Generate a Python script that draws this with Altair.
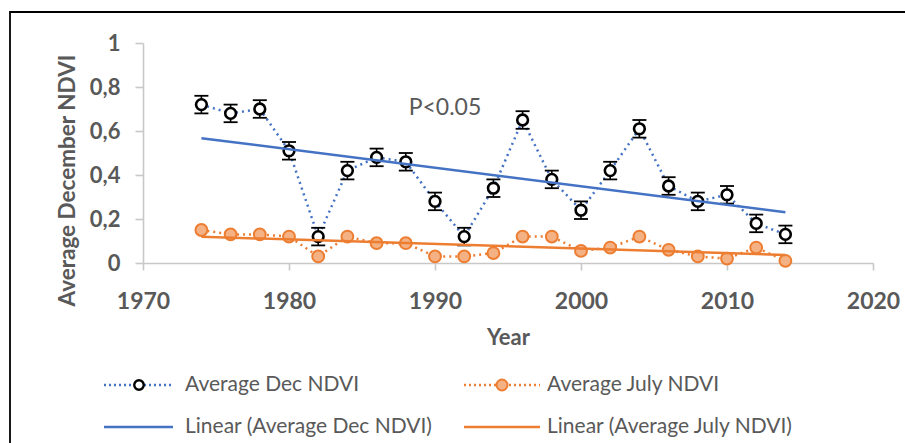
import altair as alt
import pandas as pd

# Survey years and NDVI averages
years = [1974, 1976, 1978, 1980, 1982, 1984, 1986, 1988, 1990, 1992, 1994,
         1996, 1998, 2000, 2002, 2004, 2006, 2008, 2010, 2012, 2014]
dec_ndvi = [0.72, 0.68, 0.70, 0.51, 0.12, 0.42, 0.48, 0.46, 0.28, 0.12, 0.34,
            0.65, 0.38, 0.24, 0.42, 0.61, 0.35, 0.28, 0.31, 0.18, 0.13]
july_ndvi = [0.15, 0.13, 0.13, 0.12, 0.03, 0.12, 0.09, 0.09, 0.03, 0.03, 0.045,
             0.12, 0.12, 0.055, 0.07, 0.12, 0.06, 0.03, 0.02, 0.07, 0.01]
dec_err = [0.04] * len(years)

legend_labels = ["Average Dec NDVI", "Average July NDVI",
                 "Linear (Average Dec NDVI)", "Linear (Average July NDVI)"]
x_ticks = [1970, 1980, 1990, 2000, 2010, 2020]
y_ticks = [0, 0.2, 0.4, 0.6, 0.8, 1]

BLUE = "#4472C4"
ORANGE = "#ED7D31"
ORANGE_FILL = "#F4B183"
GRAY = "#595959"
FONT = "Lato"

df = pd.DataFrame({"Year": years, "Dec": dec_ndvi, "July": july_ndvi, "err": dec_err})
df["lo"] = df["Dec"] - df["err"]
df["hi"] = df["Dec"] + df["err"]

x_enc = alt.X("Year:Q", scale=alt.Scale(domain=[1970, 2020], nice=False, zero=False),
              axis=alt.Axis(values=x_ticks, format="d", title="Year", tickSize=7,
                            labelPadding=20, titlePadding=14, labelFlush=False,
                            labelFontSize=23))
y_scale = alt.Scale(domain=[0, 1], nice=False)
y_axis = alt.Axis(values=y_ticks, title="Average December NDVI", tickSize=8,
                  labelPadding=15, labelFlush=False,
                  labelExpr="replace(format(datum.value, '~r'), '.', ',')",
                  titleX=-76, titleY=137, titleAngle=-90, titleBaseline="middle",
                  titleFontSize=22.5)

base = alt.Chart(df)

dec_line = base.mark_line(color=BLUE, strokeWidth=2.5, strokeDash=[2, 4]).encode(
    x=x_enc, y=alt.Y("Dec:Q", scale=y_scale, axis=y_axis))
july_line = base.mark_line(color=ORANGE, strokeWidth=2.5, strokeDash=[2, 4]).encode(
    x="Year:Q", y="July:Q")

err_rule = base.mark_rule(color="black", strokeWidth=1.6).encode(
    x="Year:Q", y="lo:Q", y2="hi:Q")
err_top = base.mark_rule(color="black", strokeWidth=1.8, xOffset=-7, x2Offset=7).encode(
    x="Year:Q", x2="Year:Q", y="hi:Q")
err_bot = base.mark_rule(color="black", strokeWidth=1.8, xOffset=-7, x2Offset=7).encode(
    x="Year:Q", x2="Year:Q", y="lo:Q")

dec_pts = base.mark_point(shape="circle", filled=True, fill="white", stroke="black",
                          strokeWidth=2.6, size=115, opacity=1).encode(
    x="Year:Q", y="Dec:Q")
july_pts = base.mark_point(shape="circle", filled=True, fill=ORANGE_FILL, stroke=ORANGE,
                           strokeWidth=2, size=140, opacity=1).encode(
    x="Year:Q", y="July:Q")

dec_trend = base.transform_regression("Year", "Dec").mark_line(
    color=BLUE, strokeWidth=2.5).encode(x="Year:Q", y="Dec:Q")
july_trend = base.transform_regression("Year", "July").mark_line(
    color=ORANGE, strokeWidth=2.5).encode(x="Year:Q", y="July:Q")

# Significance note
one = pd.DataFrame({"k": [0]})
note = alt.Chart(one).mark_text(text="P<0.05", font=FONT, fontSize=23, color=GRAY,
                                align="center", baseline="middle").encode(
    x=alt.value(302), y=alt.value(65))

# Outer frame of the figure
frame = alt.Chart(one).mark_rect(fill=None, stroke="black", strokeWidth=1.8).encode(
    x=alt.value(-133), x2=alt.value(800), y=alt.value(-31), y2=alt.value(450))


def legend_item(label, col, row, kind):
    line_x = [-39, 321][col]
    line_x2 = [30, 397][col]
    dot_x = [-4, 359][col]
    text_x = [42, 404][col]
    ypos = [342, 384][row]
    color = BLUE if "Dec" in label else ORANGE
    src = alt.Chart(one)
    layers = []
    if kind == "series":
        layers.append(src.mark_rule(color=color, strokeWidth=2.5, strokeDash=[2, 3]).encode(
            x=alt.value(line_x), x2=alt.value(line_x2), y=alt.value(ypos)))
        if "Dec" in label:
            layers.append(src.mark_point(shape="circle", filled=True, fill="white",
                                         stroke="black", strokeWidth=2.4, size=90,
                                         opacity=1).encode(
                x=alt.value(dot_x), y=alt.value(ypos)))
        else:
            layers.append(src.mark_point(shape="circle", filled=True, fill=ORANGE_FILL,
                                         stroke=ORANGE, strokeWidth=2, size=120,
                                         opacity=1).encode(
                x=alt.value(dot_x), y=alt.value(ypos)))
    else:
        layers.append(src.mark_rule(color=color, strokeWidth=2.5).encode(
            x=alt.value(line_x), x2=alt.value(line_x2), y=alt.value(ypos)))
    layers.append(src.mark_text(text=label, font=FONT, fontSize=21, color=GRAY,
                                align="left", baseline="middle").encode(
        x=alt.value(text_x), y=alt.value(ypos)))
    return layers


legend_layers = []
for i, lab in enumerate(legend_labels):
    legend_layers += legend_item(lab, i % 2, i // 2, "series" if i < 2 else "trend")

chart = alt.layer(
    dec_line, july_line, err_rule, err_top, err_bot, dec_pts, july_pts,
    dec_trend, july_trend, note, frame, *legend_layers
).properties(
    width=730, height=220,
    autosize=alt.AutoSizeParams(type="none"),
    padding={"left": 143, "top": 43, "right": 32, "bottom": 180},
).configure_view(stroke=None).configure_axis(
    grid=False,
    domainColor="#c8c8c8", domainWidth=1.6,
    tickColor="#c8c8c8", tickWidth=1.6,
    labelFont=FONT, labelFontSize=22, labelFontWeight="bold", labelColor=GRAY,
    titleFont=FONT, titleFontSize=22, titleFontWeight="bold", titleColor=GRAY,
)

chart.save("out.html", embed_options={"renderer": "svg", "actions": False})
